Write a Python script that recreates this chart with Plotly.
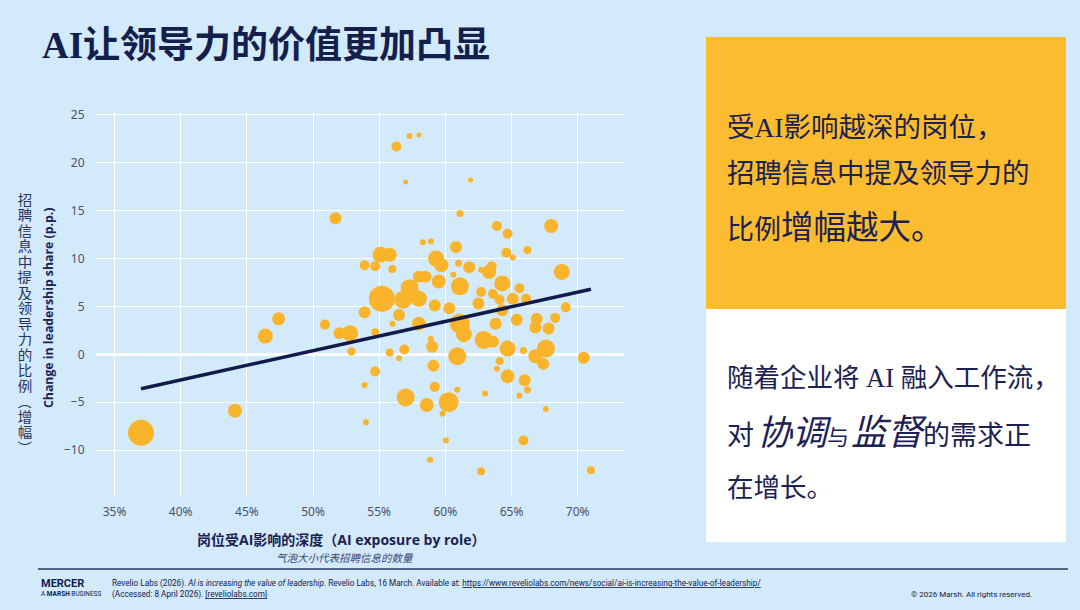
import plotly.graph_objects as go

# ---------------- data ----------------
# AI exposure by role (%)
exposure = [37.0, 44.1, 46.4, 47.4, 50.9, 51.7, 52.0, 52.8, 52.9, 53.9,
            53.9, 54.7, 54.7, 54.7, 53.9, 54.0, 55.1, 55.8, 55.2, 56.0,
            56.0, 55.8, 56.5, 56.9, 56.3, 57.3, 58.0, 57.0, 57.0, 56.5,
            56.8, 57.3, 58.0, 58.0, 58.5, 58.0, 58.3, 58.9, 58.6, 58.9,
            59.0, 59.1, 59.2, 59.2, 59.3, 59.7, 59.5, 59.8, 58.85, 60.05,
            60.25, 60.3, 60.6, 60.8, 61.0, 61.1, 61.1, 61.9, 61.8, 60.9,
            61.1, 61.4, 60.9, 62.5, 62.7, 62.7, 62.9, 63.6, 63.0, 62.7,
            63.3, 63.5, 63.6, 63.8, 63.9, 64.7, 64.6, 65.1, 66.2, 64.3,
            64.1, 64.3, 65.1, 65.6, 66.1, 65.4, 64.7, 64.1, 63.9, 64.7,
            65.9, 66.0, 66.2, 65.6, 65.9, 66.8, 66.9, 67.8, 68.3, 67.6,
            66.8, 67.4, 67.6, 68.0, 68.8, 69.1, 70.45, 71.0]
# Change in leadership share (p.p.)
lead_change = [-8.2, -5.9, 1.9, 3.7, 3.1, 14.2, 2.2, 2.2, 0.3, 4.4,
               9.3, 9.2, 2.3, -1.8, -3.2, -7.1, 10.4, 10.4, 5.8, 8.9,
               3.2, 0.2, -0.4, 0.5, 21.7, 22.8, 22.9, 18.0, -4.5, 4.1,
               5.7, 6.9, 5.8, 8.1, 8.1, 3.2, 11.7, 11.8, -5.3, 1.6,
               0.8, -1.2, -3.4, 5.1, 10.0, 9.3, 7.6, -6.2, -11.0, -9.0,
               -5.0, 4.8, 8.3, 11.2, 9.5, 7.1, 14.7, 18.2, 9.1, -0.2,
               3.2, 2.1, -3.7, 5.3, 6.5, 8.8, 1.5, 1.3, -4.1, -12.2,
               8.6, 9.2, 6.3, 3.2, 13.4, 12.6, 10.6, 10.1, 10.9, 7.4,
               5.7, 4.6, 5.8, 6.9, 5.8, 3.6, 0.6, -0.7, -1.5, -2.3,
               0.4, -2.7, -3.7, -4.3, -9.0, 2.8, 3.7, 2.7, 3.8, 0.6,
               -0.2, -1.0, -5.7, 13.4, 8.6, 4.9, -0.35, -12.1]
# Number of job postings (relative)
postings = [2028, 588, 675, 507, 300, 432, 432, 768, 192, 432,
            300, 300, 192, 300, 108, 108, 768, 588, 2028, 192,
            108, 192, 108, 300, 300, 108, 75, 75, 972, 432,
            972, 972, 768, 432, 432, 588, 108, 108, 588, 108,
            432, 432, 300, 432, 768, 588, 588, 108, 108, 108,
            1200, 432, 108, 432, 147, 972, 147, 75, 432, 972,
            1200, 768, 108, 432, 300, 108, 972, 432, 108, 192,
            588, 300, 300, 432, 300, 300, 300, 108, 192, 768,
            300, 432, 432, 300, 300, 432, 768, 192, 108, 588,
            147, 432, 147, 108, 300, 432, 432, 432, 300, 972,
            588, 432, 108, 588, 768, 300, 432, 192]

# fitted trend line end points
trend_x = [37.0, 71.0]
trend_y = [-3.6, 6.8]

x_ticks = [35, 40, 45, 50, 55, 60, 65, 70]
x_tick_labels = ["35%", "40%", "45%", "50%", "55%", "60%", "65%", "70%"]
y_ticks = [-10, -5, 0, 5, 10, 15, 20, 25]
y_tick_labels = ["−10", "−5", "0", "5", "10", "15", "20", "25"]

title_text = "AI让领导力的价值更加凸显"
y_title_en = "Change in leadership share (p.p.)"
y_title_zh = ["招", "聘", "信", "息", "中", "提", "及", "领", "导", "力", "的",
              "比", "例", "︵", "增", "幅", "︶"]
x_title = "岗位受AI影响的深度（AI exposure by role）"
x_subtitle = "气泡大小代表招聘信息的数量"

# ---------------- styling ----------------
BG = "#d3eafb"
BUBBLE = "#f9b42b"
NAVY = "#111a48"
TEXT = "#1c2153"
GOLD = "#fbbd2f"

W, H = 1080, 610
PL, PR, PT, PB = 96, 624, 112, 497  # plot area in pixels


def px(xp):
    return (xp - PL) / (PR - PL)


def py(yp):
    return (PB - yp) / (PB - PT)


fig = go.Figure()

fig.add_trace(go.Scatter(
    x=exposure, y=lead_change, mode="markers",
    marker=dict(size=postings, sizemode="area", sizeref=6, color=BUBBLE,
                opacity=1, line=dict(width=0)),
    hoverinfo="skip", showlegend=False,
))
fig.add_trace(go.Scatter(
    x=trend_x, y=trend_y, mode="lines",
    line=dict(color=NAVY, width=3.5),
    hoverinfo="skip", showlegend=False,
))

fig.update_layout(
    width=W, height=H,
    margin=dict(l=PL, r=W - PR, t=PT, b=H - PB),
    paper_bgcolor=BG, plot_bgcolor=BG,
    font=dict(family="Noto Sans, Noto Sans CJK SC, sans-serif", color=TEXT),
    showlegend=False,
)
fig.update_xaxes(
    range=[33.6, 73.5], tickvals=x_ticks, ticktext=x_tick_labels,
    showgrid=True, gridcolor="white", gridwidth=1,
    zeroline=False, showline=False,
    ticks="outside", ticklen=4, tickcolor=BG,
    tickfont=dict(size=12, color="#4b5168"),
)
fig.update_yaxes(
    range=[-14.9, 25.3], tickvals=y_ticks, ticktext=y_tick_labels,
    showgrid=True, gridcolor="white", gridwidth=1,
    zeroline=True, zerolinecolor="white", zerolinewidth=3,
    showline=False,
    ticks="outside", ticklen=8, tickcolor=BG,
    tickfont=dict(size=12, color="#4b5168"),
)

ann = []
# title
ann.append(dict(x=px(40), y=py(45), xref="paper", yref="paper",
                xanchor="left", yanchor="middle", showarrow=False,
                text="<b>" + title_text + "</b>",
                font=dict(family="Liberation Serif, Noto Sans CJK SC", size=37, color="#14204a")))
# y title english
ann.append(dict(x=px(48), y=py(308), xref="paper", yref="paper",
                xanchor="center", yanchor="middle", showarrow=False,
                textangle=-90, text="<b>" + y_title_en + "</b>",
                font=dict(family="Open Sans, Noto Sans", size=12.3, color=TEXT)))
# y title chinese, stacked vertically
for i, ch in enumerate(y_title_zh):
    ann.append(dict(x=px(25), y=py(199.5 + i * 15.47), xref="paper", yref="paper",
                    xanchor="center", yanchor="middle", showarrow=False,
                    width=16, height=15, borderpad=0,
                    text=ch, font=dict(family="Noto Sans CJK SC", size=14.5, color="#2b3260")))
# x titles
ann.append(dict(x=px(341), y=py(539), xref="paper", yref="paper",
                xanchor="center", yanchor="middle", showarrow=False,
                text="<b>" + x_title + "</b>",
                font=dict(family="Open Sans, Noto Sans CJK SC", size=14, color=TEXT)))
ann.append(dict(x=px(345), y=py(557), xref="paper", yref="paper",
                xanchor="center", yanchor="middle", showarrow=False,
                text="<i>" + x_subtitle + "</i>",
                font=dict(family="Noto Sans CJK SC", size=10.5, color="#3d4470")))

# right panel text
PFONT = "Liberation Serif, Noto Sans CJK SC"
ann.append(dict(x=px(725), y=py(127), xref="paper", yref="paper",
                xanchor="left", yanchor="middle", showarrow=False,
                text="受AI影响越深的岗位，", font=dict(family=PFONT, size=27.5, color=TEXT)))
ann.append(dict(x=px(725), y=py(173), xref="paper", yref="paper",
                xanchor="left", yanchor="middle", showarrow=False,
                text="招聘信息中提及领导力的", font=dict(family=PFONT, size=27.5, color=TEXT)))
ann.append(dict(x=px(725), y=py(228), xref="paper", yref="paper",
                xanchor="left", yanchor="middle", showarrow=False,
                text="比例<span style='font-size:32.5px'>增幅越大。</span>",
                font=dict(family=PFONT, size=27, color=TEXT)))
ann.append(dict(x=px(725), y=py(378), xref="paper", yref="paper",
                xanchor="left", yanchor="middle", showarrow=False,
                text="随着企业将 AI 融入工作流，", font=dict(family=PFONT, size=26.5, color=TEXT)))
ann.append(dict(x=px(725), y=py(433), xref="paper", yref="paper",
                xanchor="left", yanchor="middle", showarrow=False,
                text="对<span style='font-size:12px'> </span><i><span style='font-size:35px'>协调</span></i>"
                     "<span style='font-size:22px'>与</span><span style='font-size:8px'> </span>"
                     "<i><span style='font-size:36px'>监督</span></i>的需求正",
                font=dict(family=PFONT, size=27, color=TEXT)))
ann.append(dict(x=px(725), y=py(488), xref="paper", yref="paper",
                xanchor="left", yanchor="middle", showarrow=False,
                text="在增长。", font=dict(family=PFONT, size=26.5, color=TEXT)))

# footer
ann.append(dict(x=px(39), y=py(583), xref="paper", yref="paper",
                xanchor="left", yanchor="middle", showarrow=False,
                text="<b>MERCER</b>", font=dict(family="Roboto", size=11, color=NAVY)))
ann.append(dict(x=px(39), y=py(594), xref="paper", yref="paper",
                xanchor="left", yanchor="middle", showarrow=False,
                text="A <b>MARSH</b> BUSINESS", font=dict(family="Roboto", size=6.5, color=NAVY)))
ann.append(dict(x=px(110), y=py(583), xref="paper", yref="paper",
                xanchor="left", yanchor="middle", showarrow=False,
                text="Revelio Labs (2026). <i>AI is increasing the value of leadership</i>. Revelio Labs, 16 March. "
                     "Available at: <span style='text-decoration:underline'>https://www.reveliolabs.com/news/social/ai-is-increasing-the-value-of-leadership/</span>",
                font=dict(family="Roboto", size=8.2, color=NAVY)))
ann.append(dict(x=px(110), y=py(594), xref="paper", yref="paper",
                xanchor="left", yanchor="middle", showarrow=False,
                text="(Accessed: 8 April 2026). <span style='text-decoration:underline'>[reveliolabs.com]</span>",
                font=dict(family="Roboto", size=8.2, color=NAVY)))
ann.append(dict(x=px(1034), y=py(594), xref="paper", yref="paper",
                xanchor="right", yanchor="middle", showarrow=False,
                text="© 2026 Marsh. All rights reserved.",
                font=dict(family="Roboto", size=8, color=NAVY)))

shapes = [
    dict(type="rect", xref="paper", yref="paper", x0=px(706), x1=px(1066), y0=py(37), y1=py(309),
         fillcolor=GOLD, line=dict(width=0), layer="below"),
    dict(type="rect", xref="paper", yref="paper", x0=px(706), x1=px(1066), y0=py(309), y1=py(542),
         fillcolor="white", line=dict(width=0), layer="below"),
    dict(type="line", xref="paper", yref="paper", x0=px(38), x1=px(1068), y0=py(569), y1=py(569),
         line=dict(color="#2a3360", width=1.5)),
]

fig.update_layout(annotations=ann, shapes=shapes)
fig.write_html("out.html", config={"displayModeBar": False},
               post_script="document.body.style.margin='0';document.body.style.padding='0';"
                           "document.body.style.background='" + BG + "';")
